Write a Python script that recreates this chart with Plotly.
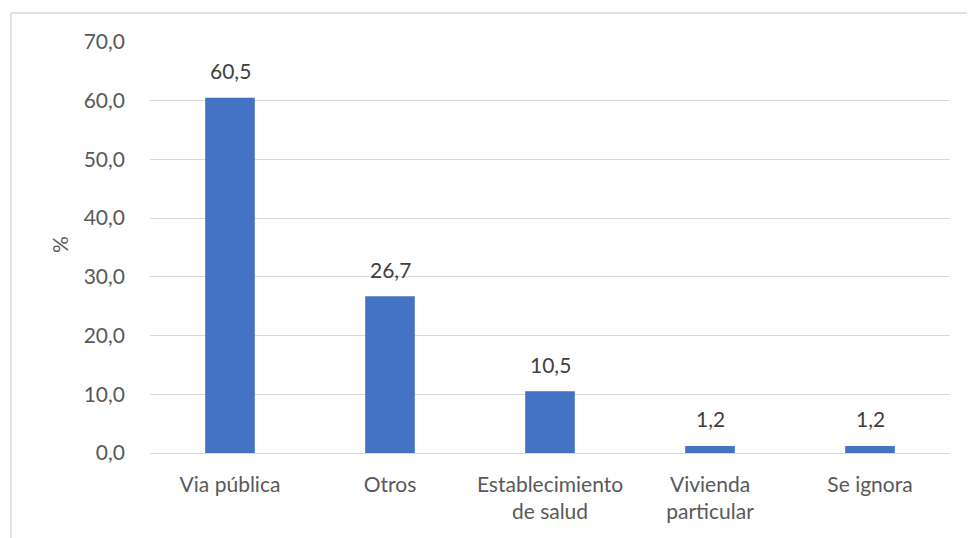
import plotly.graph_objects as go

categories = ["Via pública", "Otros", "Establecimiento<br>de salud", "Vivienda<br>particular", "Se ignora"]
values = [60.5, 26.7, 10.5, 1.2, 1.2]
y_ticks = [0, 10, 20, 30, 40, 50, 60, 70]
y_tick_labels = ["0,0", "10,0", "20,0", "30,0", "40,0", "50,0", "60,0", "70,0"]

text_color = "#595959"
label_color = "#404040"
font_family = "Lato, 'Open Sans', sans-serif"
font_size = 21

fig = go.Figure(
    go.Bar(
        x=categories,
        y=values,
        marker=dict(color="#4472C4", line=dict(width=0)),
        hoverinfo="x+y",
    )
)

# value labels above each bar
for cat, val in zip(categories, values):
    fig.add_annotation(
        x=cat, y=val, xref="x", yref="y",
        text=f"{val:.1f}".replace(".", ","),
        showarrow=False, yanchor="middle", yshift=27,
        font=dict(size=font_size, color=label_color, family=font_family),
    )

# y-axis title
fig.add_annotation(
    x=(60 - 150) / 800, y=(453 - 245) / 411, xref="paper", yref="paper",
    text="%", textangle=-90, showarrow=False,
    xanchor="center", yanchor="middle",
    font=dict(size=font_size, color=text_color, family=font_family),
)

fig.update_layout(
    width=968,
    height=538,
    margin=dict(l=150, r=18, t=42, b=85),
    paper_bgcolor="white",
    plot_bgcolor="white",
    bargap=0.69,
    showlegend=False,
    font=dict(family=font_family, size=font_size, color=text_color),
    xaxis=dict(
        showgrid=False,
        showline=False,
        ticks="",
        ticklabelstandoff=17,
        tickfont=dict(size=font_size, color=text_color),
    ),
    yaxis=dict(
        range=[0, 70],
        tickvals=y_ticks,
        ticktext=y_tick_labels,
        showgrid=True,
        gridcolor="#D9D9D9",
        gridwidth=1,
        zeroline=True,
        zerolinecolor="#D9D9D9",
        zerolinewidth=1,
        showline=False,
        ticks="",
        ticklabelstandoff=24,
        tickfont=dict(size=font_size, color=text_color),
    ),
    shapes=[
        # chart frame: top and left edges
        dict(type="line", xref="paper", yref="paper",
             x0=(11 - 150) / 800, x1=(967 - 150) / 800,
             y0=(453 - 13) / 411, y1=(453 - 13) / 411,
             line=dict(color="#D9D9D9", width=1.5)),
        dict(type="line", xref="paper", yref="paper",
             x0=(11 - 150) / 800, x1=(11 - 150) / 800,
             y0=(453 - 13) / 411, y1=(453 - 545) / 411,
             line=dict(color="#D9D9D9", width=1.5)),
    ],
)

fig.write_html("out.html")
